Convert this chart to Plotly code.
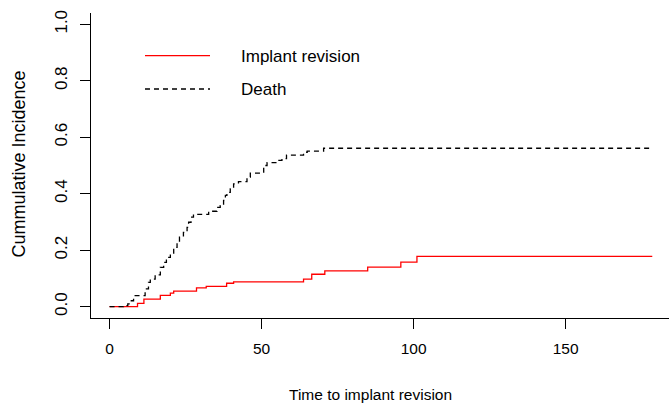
import plotly.graph_objects as go

# ---- data ----
revision_time = [0, 9.2, 11.3, 16.7, 20.0, 21.1, 28.6, 31.8, 38.5, 40.8, 63.8, 66.5, 70.8, 84.9, 95.8, 101.1, 178.5]
revision_cif = [0.0, 0.012, 0.027, 0.040, 0.048, 0.055, 0.067, 0.072, 0.083, 0.088, 0.098, 0.115, 0.127, 0.140, 0.158, 0.178, 0.178]

death_time = [0, 4.6, 6.0, 6.8, 7.9, 11.7, 12.8, 13.4, 15.0, 16.7, 17.8, 18.7, 20.0, 21.1, 22.2,
              23.0, 24.3, 25.5, 26.0, 26.8, 27.6, 32.6, 35.3, 36.4, 37.5, 38.1, 38.6, 39.7, 40.8, 42.4,
              45.2, 46.3, 50.7, 51.8, 55.1, 56.7, 58.2, 63.8, 65.0, 70.4, 178.5]
death_cif = [0, 0.004, 0.010, 0.021, 0.039, 0.063, 0.086, 0.098, 0.113, 0.139, 0.157, 0.175, 0.187, 0.210, 0.228,
             0.246, 0.263, 0.281, 0.299, 0.317, 0.327, 0.338, 0.352, 0.358, 0.376, 0.394, 0.405, 0.417, 0.435, 0.443,
             0.459, 0.473, 0.500, 0.510, 0.518, 0.524, 0.537, 0.547, 0.551, 0.561, 0.561]

x_ticks = [0, 50, 100, 150]
y_ticks = [0.0, 0.2, 0.4, 0.6, 0.8, 1.0]
y_ticklabels = ["0.0", "0.2", "0.4", "0.6", "0.8", "1.0"]

series_names = ["Implant revision", "Death"]
x_title = "Time to implant revision"
y_title = "Cummulative Incidence"

FONT = "Liberation Sans, Arial, sans-serif"
W, H = 669, 405
ML, MR, MT, MB = 91, 0, 13, 87
PW, PH = W - ML - MR, H - MT - MB


def px_to_paper_x(px):
    return (px - ML) / PW


def px_to_paper_y(py):
    return (H - MB - py) / PH


fig = go.Figure()
fig.add_trace(go.Scatter(x=revision_time, y=revision_cif, mode="lines", line_shape="hv",
                         line=dict(color="#ff0000", width=1.3), name=series_names[0], showlegend=False))
fig.add_trace(go.Scatter(x=death_time, y=death_cif, mode="lines", line_shape="hv",
                         line=dict(color="#000000", width=1.3, dash="5px,4px"), name=series_names[1],
                         showlegend=False))

fig.update_layout(
    width=W, height=H,
    margin=dict(l=ML, r=MR, t=MT, b=MB, pad=0),
    paper_bgcolor="white", plot_bgcolor="white",
    font=dict(family=FONT, color="#000000"),
    showlegend=False,
    xaxis=dict(range=[-6.1, 184.0], tickvals=x_ticks, ticktext=[str(v) for v in x_ticks],
               showline=True, linecolor="#000000", linewidth=1, ticks="outside", ticklen=10,
               tickcolor="#000000", tickwidth=1, showgrid=False, zeroline=False,
               tickfont=dict(size=15.5, family=FONT, color="#000000"), ticklabelstandoff=6),
    yaxis=dict(range=[-0.04, 1.04], tickvals=y_ticks, ticktext=y_ticklabels,
               showline=True, linecolor="#000000", linewidth=1, ticks="outside", ticklen=10,
               tickcolor="#000000", tickwidth=1, showgrid=False, zeroline=False, tickangle=-90,
               tickfont=dict(size=17, family=FONT, color="#000000"), ticklabelstandoff=6),
)

# axis titles
fig.add_annotation(text=x_title, xref="paper", yref="paper", x=px_to_paper_x(370), y=0,
                   xanchor="center", yanchor="middle", yshift=-(394 - (H - MB)), showarrow=False,
                   font=dict(size=15.5, family=FONT, color="#000000"))
fig.add_annotation(text=y_title, xref="paper", yref="paper", x=0, y=px_to_paper_y(164.5),
                   xanchor="center", yanchor="middle", xshift=18 - ML, textangle=-90, showarrow=False,
                   font=dict(size=18, family=FONT, color="#000000"))

# legend (R style, no box)
legend_rows = [(55.7, "#ff0000", "solid"), (89.0, "#000000", "5px,4px")]
for (py, col, dash), name in zip(legend_rows, series_names):
    fig.add_shape(type="line", xref="paper", yref="paper",
                  x0=px_to_paper_x(145), x1=px_to_paper_x(210), y0=px_to_paper_y(py), y1=px_to_paper_y(py),
                  line=dict(color=col, width=1.3, dash=dash))
    fig.add_annotation(text=name, xref="paper", yref="paper", x=px_to_paper_x(239), y=px_to_paper_y(py + 0.8),
                       xanchor="left", yanchor="middle", showarrow=False,
                       font=dict(size=17, family=FONT, color="#000000"))

fig.write_html("out.html")
